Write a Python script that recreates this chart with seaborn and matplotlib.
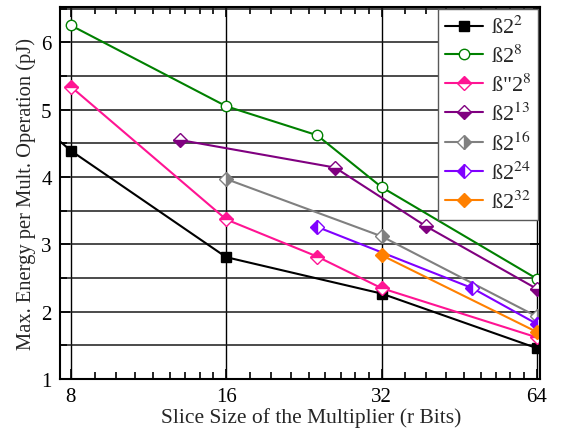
import numpy as np
import pandas as pd
import matplotlib
matplotlib.use("Agg")
import matplotlib.pyplot as plt
import matplotlib.ticker as mticker
import seaborn as sns

sns.set_style("ticks")
plt.rcParams['font.family'] = ['Liberation Serif', 'DejaVu Serif']
plt.rcParams['mathtext.fontset'] = 'stix'

# data
labels = ['ß2$^{2}$', 'ß2$^{8}$', 'ß"2$^{8}$', 'ß2$^{13}$', 'ß2$^{16}$', 'ß2$^{24}$', 'ß2$^{32}$']

b2_2_x = [7, 8, 16, 32, 64]
b2_2_y = [4.77, 4.39, 2.81, 2.27, 1.46]

b2_8_x = [8, 16, 24, 32, 64]
b2_8_y = [6.25, 5.05, 4.62, 3.85, 2.49]

b2pp_8_x = [8, 16, 24, 32, 64]
b2pp_8_y = [5.34, 3.37, 2.82, 2.35, 1.62]

b2_13_x = [13, 26, 39, 64]
b2_13_y = [4.55, 4.14, 3.27, 2.34]

b2_16_x = [16, 32, 64]
b2_16_y = [3.97, 3.12, 1.93]

b2_24_x = [24, 48, 64]
b2_24_y = [3.26, 2.35, 1.82]

b2_32_x = [32, 64]
b2_32_y = [2.84, 1.70]

series = [
    (b2_2_x, b2_2_y, 'black', 's', 'full', 'black'),
    (b2_8_x, b2_8_y, '#008000', 'o', 'full', 'white'),
    (b2pp_8_x, b2pp_8_y, '#FF1493', 'D', 'top', None),
    (b2_13_x, b2_13_y, '#800080', 'D', 'bottom', None),
    (b2_16_x, b2_16_y, '#808080', 'D', 'right', None),
    (b2_24_x, b2_24_y, '#8000FF', 'D', 'left', None),
    (b2_32_x, b2_32_y, '#FF8000', 'D', 'full', None),
]

fig = plt.figure(figsize=(5.66, 4.31), dpi=100)
ax = fig.add_axes([0.106, 0.118, 0.848, 0.863])

for (xs, ys, col, mk, fs, mfc), lab in zip(series, labels):
    df = pd.DataFrame({'x': xs, 'y': ys})
    sns.lineplot(data=df, x='x', y='y', ax=ax, color=col, lw=1.5,
                 marker=mk, markersize=7.5 if mk != 's' else 6.5,
                 fillstyle=fs, markerfacecolor=mfc if mfc else col,
                 markerfacecoloralt='white', markeredgecolor=col,
                 markeredgewidth=1.0, label=lab, clip_on=True)

ax.set_xscale('log', base=2)
ax.set_xlim(7.62, 64.9)
ax.set_ylim(1, 6.52)

ax.xaxis.set_major_locator(mticker.FixedLocator([8, 16, 32, 64]))
ax.xaxis.set_major_formatter(mticker.FixedFormatter(['8', '16', '32', '64']))
minor = []
for a in [8, 16, 32]:
    minor += [a + k * a / 9 for k in range(1, 9)]
ax.xaxis.set_minor_locator(mticker.FixedLocator(minor))
ax.xaxis.set_minor_formatter(mticker.NullFormatter())

ax.yaxis.set_major_locator(mticker.MultipleLocator(1))
ax.yaxis.set_minor_locator(mticker.MultipleLocator(0.5))

ax.grid(True, which='major', axis='x', color='black', lw=1.0)
ax.grid(True, which='both', axis='y', color='0.1', lw=1.1)
ax.set_axisbelow(True)

ax.tick_params(which='both', direction='in', top=True, right=True,
               colors='black', labelsize=15, width=1.2)
ax.tick_params(which='major', length=7, pad=6)
ax.tick_params(which='minor', length=5)

for s in ax.spines.values():
    s.set_color('black')
    s.set_linewidth(1.5)

ax.set_xlabel('Slice Size of the Multiplier (r Bits)', fontsize=15.5, labelpad=2)
ax.xaxis.set_label_coords(0.523, -0.075)
ax.set_ylabel('Max. Energy per Mult. Operation (pJ)', fontsize=14.8, labelpad=4)

leg = ax.legend(loc='upper right', fontsize=16, handlelength=1.7,
                borderaxespad=0.1, fancybox=False, framealpha=1,
                edgecolor='0.35', labelspacing=0.3, handletextpad=0.35,
                borderpad=0.3)
leg.get_frame().set_linewidth(1.0)

fig.savefig('out.png', dpi=100)
